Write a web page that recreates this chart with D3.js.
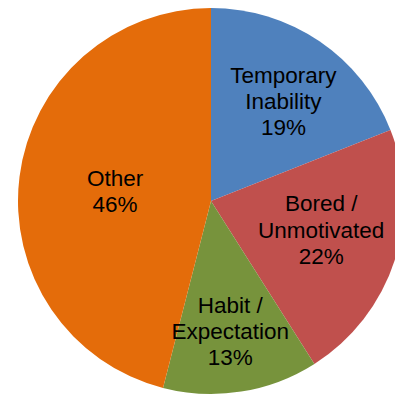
<!DOCTYPE html>
<html>
<head>
<meta charset="utf-8">
<script src="https://cdn.jsdelivr.net/npm/d3@7/dist/d3.min.js"></script>
<style>
  html, body { margin: 0; padding: 0; background: #fff; overflow: hidden; }
  svg { display: block; }
  text { font-family: "Liberation Sans", Arial, sans-serif; }
</style>
</head>
<body>
<svg id="chart" width="395" height="396"></svg>
<script>
// Reasons, in clockwise order from 12 o'clock
const categories = ["Temporary Inability", "Bored / Unmotivated", "Habit / Expectation", "Other"];
const values = [19, 22, 13, 46];
const labelLines = [["Temporary", "Inability"], ["Bored /", "Unmotivated"], ["Habit /", "Expectation"], ["Other"]];
const colors = ["#4F81BD", "#C0504D", "#77933C", "#E46C0A"];

const width = 395, height = 396;
const cx = 211, cy = 201, radius = 193;

// how far out (as share of the radius) each label block sits
const labelReach = { "Temporary Inability": 0.64, "Bored / Unmotivated": 0.59, "Habit / Expectation": 0.68, "Other": 0.5 };
const labelTurn = { "Temporary Inability": 0.03, "Bored / Unmotivated": -0.06, "Habit / Expectation": 0.01, "Other": -0.02 };

const svg = d3.select("#chart");
const g = svg.append("g").attr("transform", `translate(${cx},${cy})`);

const data = categories.map((c, i) => ({ name: c, value: values[i], lines: labelLines[i], color: colors[i] }));

const pie = d3.pie().value(d => d.value).sort(null);
const arcs = pie(data);
const arc = d3.arc().innerRadius(0).outerRadius(radius);

g.selectAll("path.slice")
  .data(arcs)
  .join("path")
  .attr("class", "slice")
  .attr("d", arc)
  .attr("fill", d => d.data.color);

const fontSize = 22.5, lineH = 26.3;

const labels = g.selectAll("g.label")
  .data(arcs)
  .join("g")
  .attr("class", "label")
  .attr("transform", d => {
    const r = radius * labelReach[d.data.name];
    const a = (d.startAngle + d.endAngle) / 2 + labelTurn[d.data.name];
    return `translate(${r * Math.sin(a)},${-r * Math.cos(a)})`;
  });

labels.each(function(d) {
  const lines = d.data.lines.concat([d3.format(".0%")(d.data.value / 100)]);
  const n = lines.length;
  const t = d3.select(this).append("text")
    .attr("text-anchor", "middle")
    .attr("font-size", fontSize)
    .attr("fill", "#000");
  lines.forEach((s, i) => {
    t.append("tspan")
      .attr("x", 0)
      .attr("y", (i - (n - 1) / 2) * lineH + fontSize * 0.36)
      .text(s);
  });
});
</script>
</body>
</html>
